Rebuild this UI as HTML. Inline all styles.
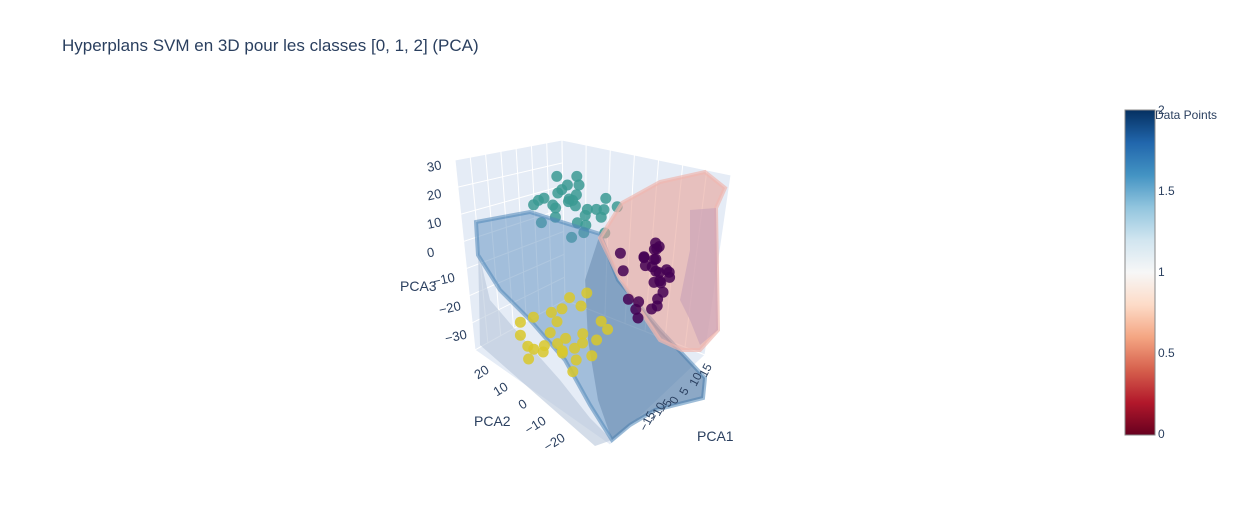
<!DOCTYPE html>
<html><head><meta charset="utf-8">
<style>
body{margin:0;background:#fff;font-family:"Liberation Sans",Arial,sans-serif;}
svg text{font-family:"Liberation Sans",Arial,sans-serif;}
</style></head>
<body>
<svg width="1242" height="525" viewBox="0 0 1242 525">
<defs>
<linearGradient id="rdbu" x1="0" y1="1" x2="0" y2="0">
<stop offset="0" stop-color="#67001f"/><stop offset="0.1" stop-color="#b2182b"/>
<stop offset="0.2" stop-color="#d6604d"/><stop offset="0.3" stop-color="#f4a582"/>
<stop offset="0.4" stop-color="#fddbc7"/><stop offset="0.5" stop-color="#f7f7f7"/>
<stop offset="0.6" stop-color="#d1e5f0"/><stop offset="0.7" stop-color="#92c5de"/>
<stop offset="0.8" stop-color="#4393c3"/><stop offset="0.9" stop-color="#2166ac"/>
<stop offset="1" stop-color="#053061"/>
</linearGradient>
</defs>
<text x="62" y="51" font-size="17" fill="#2a3f5f">Hyperplans SVM en 3D pour les classes [0, 1, 2] (PCA)</text>
<g id="scene"></g>
<g>
<rect x="1125" y="110" width="30" height="325" fill="url(#rdbu)" stroke="#888" stroke-width="1"/>
<g font-size="12" fill="#2a3f5f">
<text x="1158" y="114">2</text>
<text x="1158" y="195">1.5</text>
<text x="1158" y="276">1</text>
<text x="1158" y="357">0.5</text>
<text x="1158" y="438">0</text>
<text x="1155" y="119">Data Points</text>
</g></g>
</svg>
<script>
// data points (PCA1, PCA2, PCA3) per class
const class2X=[-2,-1,-3,0,-2.5,-1.5,-4,1,-2,-3.5,0.5,-1,-5,-2,1.5,-3,-0.5,-6,2,-1.5,-2.5,0,-4.5,-1,-7,3,-8,-4,2.5,-5.5];
const class2Y=[0,4,-5,2,6,-3,0,-6,8,3,-8,1,5,-2,0,-4,3,7,-7,9,-9,5,-1,0,10,-10,6,12,-5,2];
const class2Z=[21,25,18,22,28,19,24,18,16,26,22,14,21,29,17,15,20,23,24,12,25,19,13,30,20,22,17,18,11,27];
const class0X=[9.5,10,8,11,9,10.5,8.5,12,7,9,11,10,8,9.5,6,7.5,10.5,11.5,8,9,12,6.5,7,10,5,4.5,6,5.5];
const class0Y=[-15,-14,-16,-13,-17,-15,-12,-16,-14,-18,-15,-13,-17,-16,-12,-15,-19,-14,-13,-16,-17,-10,-18,-15,-8,-10,-6,-12];
const class0Z=[-2,1,-4,3,-1,-6,2,-3,4,-7,5,-2,-9,6,-11,-13,-1,-8,0,3,-5,-15,-10,7,-2,-10,2,-16];
const class1X=[-13,-14,-12,-15,-13.5,-11,-14.5,-12.5,-10,-13,-15,-11.5,-12,-14,-9,-13,-16,-10.5,-12,-14,-8,-7,-9,-10,-11,-8.5,-6,-12];
const class1Y=[-4,0,-6,3,-2,-8,6,-5,-10,2,8,-9,-3,-7,-12,5,4,-11,-1,9,-13,-14,-9,-6,-4,-11,-15,-8];
const class1Z=[-14,-16,-12,-18,-11,-15,-19,-17,-13,-20,-16,-18,-8,-14,-17,-10,-21,-9,-6,-13,-12,-6,-2,0,-4,3,-9,-22];
// axis tick values
const zTicks=[30,20,10,0,-10,-20,-30];
const yTicks=[20,10,0,-10,-20];
const xTicks=[15,10,5,0,-5,-10,-15];

const NS='http://www.w3.org/2000/svg';
const scene=document.getElementById('scene');
function el(tag,attrs,parent){const e=document.createElementNS(NS,tag);for(const k in attrs)e.setAttribute(k,attrs[k]);(parent||scene).appendChild(e);return e;}
function proj(x,y,z){return [586+3.2*x-2.6*y-0.2*z, 264-2.4*x-1.6*y-3.0*z];}

const panes=[["455,160 562,140 565,300 475,350","left-wall"],["562,140 731,175 705,355 565,300","right-wall"],["475,350 565,300 705,355 610,445","floor"]];
panes.forEach(p=>{const e=el('polygon',{points:p[0],fill:'#e5ecf6',stroke:'#fff','stroke-width':1});

});
for(let i=1;i<7;i++){const t=i/7;
 let a=[455+107*t,160-20*t],b=[475+90*t,350-50*t];
 const g=el('line',{x1:a[0],y1:a[1],x2:b[0],y2:b[1],stroke:'#fff','stroke-width':1});
 
 
 a=[562+169*t,140+35*t];b=[565+140*t,300+55*t];
 const g2=el('line',{x1:a[0],y1:a[1],x2:b[0],y2:b[1],stroke:'#fff','stroke-width':1});
 
 
 a=[455+20*t,160+190*t];b=[562+3*t,140+160*t];
 const g3=el('line',{x1:a[0],y1:a[1],x2:b[0],y2:b[1],stroke:'#fff','stroke-width':1});
 
 
}

function drawPts(X,Y,Z,color,name,op){
 for(let i=0;i<X.length;i++){const p=proj(X[i],Y[i],Z[i]);
  const c=el('circle',{cx:p[0].toFixed(1),cy:p[1].toFixed(1),r:5.5,fill:color,'fill-opacity':op});
  
  }
}
drawPts(class2X,class2Y,class2Z,'#3b9a93','point-class-2',0.85);

const blue2=el('polygon',{points:'478,250 490,300 520,335 560,380 590,418 612,440 595,446 480,345',fill:'#b7c7da','fill-opacity':0.6});


const blue=el('polygon',{points:'476,222 530,212 600,234 618,280 660,330 705,378 703,398 655,410 630,425 612,440 590,405 565,360 530,320 500,290 478,255',fill:'#5f8fbf','fill-opacity':0.5,stroke:'#4f86b8','stroke-width':4,'stroke-opacity':0.55});


const blueR=el('polygon',{points:'600,234 618,280 660,330 705,378 703,398 655,410 630,425 612,440 598,400 588,340 585,280',fill:'#4a6f98','fill-opacity':0.35});


drawPts(class1X,class1Y,class1Z,'#d9c82a','point-class-1',0.85);

const pink=el('polygon',{points:'600,238 622,203 660,182 705,172 725,188 716,208 718,330 700,350 682,350 660,340 640,310 618,275',fill:'#e8a39a','fill-opacity':0.6,stroke:'#f0b8b0','stroke-width':4,'stroke-opacity':0.7});


const pinkIn=el('polygon',{points:'690,210 716,208 718,330 700,345 690,320 680,300 690,250',fill:'#c8a0b8','fill-opacity':0.6});


drawPts(class0X,class0Y,class0Z,'#440154','point-class-0',0.85);

const tf={'font-size':13,fill:'#2a3f5f'};
zTicks.forEach((v,i)=>{const y=172+i*28.5;const x=428+(i>3?(i-3)*6:0);
 const t=el('text',Object.assign({x:x,y:y,'text-anchor':'start',transform:`rotate(-12 ${x} ${y})`},tf));t.textContent=String(v).replace('-','\u2212');
 
 });
yTicks.forEach((v,i)=>{const x=490+i*19,y=372+i*17;
 const t=el('text',Object.assign({x:x,y:y,'text-anchor':'end',transform:`rotate(-32 ${x} ${y})`},tf));t.textContent=String(v).replace('-','\u2212');
 
 });
xTicks.forEach((v,i)=>{const x=706-i*10,y=378+i*9;
 const t=el('text',Object.assign({x:x,y:y,'text-anchor':'start',transform:`rotate(-62 ${x} ${y})`,'font-size':12,fill:'#2a3f5f'}));t.textContent=String(v).replace('-','\u2212');
 
 });
const titles=[['PCA3',400,291,'z-axis-title'],['PCA2',474,426,'y-axis-title'],['PCA1',697,441,'x-axis-title']];
titles.forEach(a=>{const t=el('text',{x:a[1],y:a[2],'font-size':14,fill:'#2a3f5f'});t.textContent=a[0];
 
 });
</script>
</body></html>
